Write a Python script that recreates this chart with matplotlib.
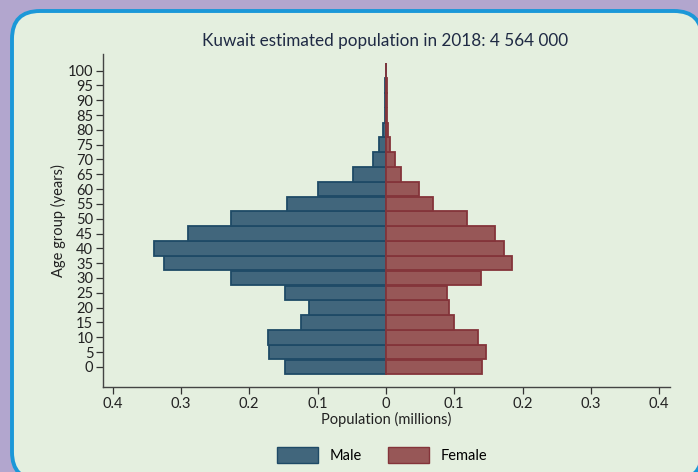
import matplotlib.pyplot as plt
from matplotlib.patches import FancyBboxPatch, Patch
from matplotlib.transforms import IdentityTransform

plt.rcParams['font.family'] = ['Lato', 'DejaVu Sans']

# Данные: возрастные группы и население (млн)
ages = [0, 5, 10, 15, 20, 25, 30, 35, 40, 45, 50, 55, 60, 65, 70, 75, 80, 85, 90, 95, 100]
male = [0.148, 0.171, 0.172, 0.124, 0.113, 0.148, 0.226, 0.325, 0.339, 0.289, 0.227, 0.144,
        0.100, 0.048, 0.0186, 0.0098, 0.0045, 0.0018, 0.0012, 0.0008, 0.0005]
female = [0.141, 0.147, 0.135, 0.099, 0.093, 0.089, 0.139, 0.185, 0.173, 0.160, 0.119, 0.069,
          0.048, 0.0225, 0.0137, 0.006, 0.0035, 0.0015, 0.0012, 0.0010, 0.0008]
xticks = [-0.4, -0.3, -0.2, -0.1, 0, 0.1, 0.2, 0.3, 0.4]
xtick_labels = ['0.4', '0.3', '0.2', '0.1', '0', '0.1', '0.2', '0.3', '0.4']

fig = plt.figure(figsize=(6.98, 4.72), dpi=100)
fig.patch.set_facecolor('#b2a6ce')

# Светлая панель с синей рамкой
panel = FancyBboxPatch((12, -8), 690, 469, boxstyle='round,pad=0,rounding_size=28',
                       transform=IdentityTransform(), facecolor='#e4efdf',
                       edgecolor='#1b98d8', linewidth=2.8, zorder=0)
fig.add_artist(panel)

ax = fig.add_axes([0.1476, 0.180, 0.8124, 0.705])
ax.set_facecolor('none')

ax.barh(ages, [-m for m in male], height=4.9, color='#41667c', edgecolor='#1e4a66',
        linewidth=1.3, label='Male')
ax.barh(ages, female, height=4.9, color='#975757', edgecolor='#84343a',
        linewidth=1.3, label='Female')

ax.set_xlim(-0.414, 0.416)
ax.set_ylim(-6.8, 105.5)
ax.set_yticks(ages)
ax.set_yticklabels([str(a) for a in ages], fontsize=10.5, color='#222222')
ax.set_xticks(xticks)
ax.set_xticklabels(xtick_labels, fontsize=10.5, color='#222222')
ax.tick_params(axis='both', length=5, width=0.9, color='#333333', pad=2)

for s in ['top', 'right']:
    ax.spines[s].set_visible(False)
for s in ['left', 'bottom']:
    ax.spines[s].set_color('#444444')
    ax.spines[s].set_linewidth(1.0)

ax.set_xlabel('Population (millions)', fontsize=10.5, color='#222222', labelpad=1)
ax.set_ylabel('Age group (years)', fontsize=10.5, color='#222222', labelpad=1)
fig.text(0.551, 0.914, 'Kuwait estimated population in 2018: 4 564 000',
         ha='center', va='center', fontsize=12.3, color='#1f2a44')

handles = [Patch(facecolor='#41667c', edgecolor='#1e4a66', label='Male'),
           Patch(facecolor='#975757', edgecolor='#84343a', label='Female')]
fig.legend(handles=handles, loc='center', bbox_to_anchor=(0.547, 0.036), ncol=2,
           frameon=False, fontsize=10.5, handlelength=2.8, handleheight=1.3,
           columnspacing=1.8, handletextpad=0.8)

plt.savefig('out.png', dpi=100)
